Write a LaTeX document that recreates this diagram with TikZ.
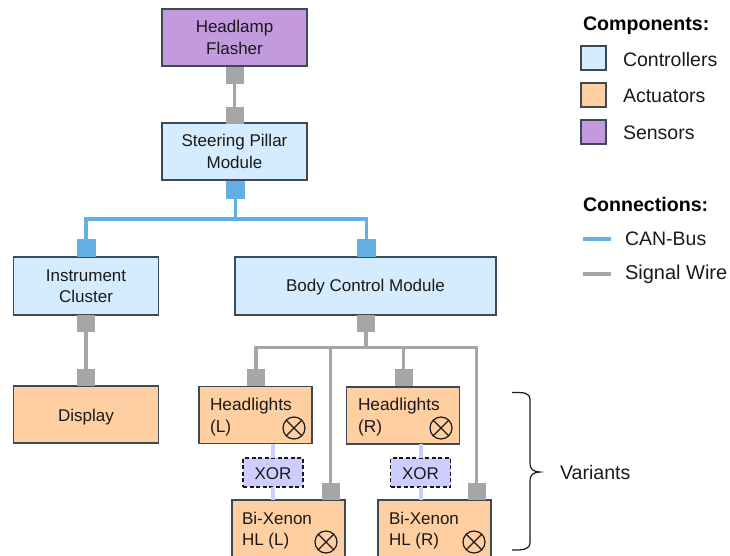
\documentclass[tikz,border=0pt]{standalone}
\usepackage{fontspec}
\setmainfont{Liberation Sans}
\definecolor{ctrl}{HTML}{D5EBFE}
\definecolor{act}{HTML}{FFCFA1}
\definecolor{sens}{HTML}{C39ADE}
\definecolor{canb}{HTML}{64B0E4}
\definecolor{sigw}{HTML}{A6A6A6}
\definecolor{edge}{HTML}{3C4A56}
\definecolor{xorc}{HTML}{CDCDFF}
\definecolor{ink}{HTML}{1A1A1A}
\tikzset{
  every node/.style={font=\fontsize{17}{21.5}\selectfont,text=ink,inner sep=0pt,outer sep=0pt},
  unit/.style={draw=edge,line width=1.3pt,align=center},
  wide/.style={minimum width=145pt,minimum height=57pt},
  ctrlbox/.style={unit,fill=ctrl},
  actbox/.style={unit,fill=act},
  sensbox/.style={unit,fill=sens},
  variant/.style={unit,fill=act,minimum width=113pt,minimum height=57pt},
  portg/.style={fill=sigw,minimum width=18pt,minimum height=17pt},
  portb/.style={fill=canb,minimum width=19pt,minimum height=18pt},
  wire/.style={draw=sigw,line width=3.5pt},
  bus/.style={draw=canb,line width=3.5pt},
  xorline/.style={draw=xorc,line width=4pt},
  xorbox/.style={draw=ink,line width=1.1pt,fill=xorc,minimum width=60pt,minimum height=29pt,dash pattern=on 4pt off 2.5pt},
  lamp/.style={draw=ink,line width=1.2pt,circle,minimum size=22pt},
  lbl/.style={align=left,anchor=west},
  swatch/.style={draw=edge,line width=1.3pt,minimum width=25pt,minimum height=24pt},
  legendtext/.style={anchor=west,font=\fontsize{19.5}{23}\selectfont},
  head/.style={anchor=west,font=\fontsize{19.6}{23}\selectfont\bfseries,text=black},
}
\newcommand{\lampat}[2]{%
  \node[lamp] (#1) at #2 {};
  \draw[ink,line width=1.2pt] (#1.north west) -- (#1.south east) (#1.north east) -- (#1.south west);
}
\begin{document}
\begin{tikzpicture}[x=1pt,y=-1pt]
\useasboundingbox (0,0) rectangle (730,555);
\clip (0,0) rectangle (730,555);
% nodes
\node[sensbox,wide] (flash) at (234.5,37.5) {Headlamp\\Flasher};
\node[ctrlbox,wide] (steer) at (234.5,151.5) {Steering Pillar\\Module};
\node[ctrlbox,wide,minimum height=58pt] (inst) at (86,286) {Instrument\\Cluster};
\node[ctrlbox,minimum width=261pt,minimum height=58pt] (bcm) at (365.5,286) {};
\node[actbox,wide] (disp) at (86,414.5) {};
\node[variant] (hll) at (255.5,415) {};
\node[variant] (hlr) at (403,415.5) {};
\node[variant,minimum height=70pt] (bxl) at (288.5,535) {};
\node[variant,minimum height=70pt] (bxr) at (434.5,535) {};
\node[xorbox] (xl) at (273,472.5) {};
\node[xorbox] (xr) at (420.5,472.5) {};
\node (tb) at (365.5,287) {Body Control Module};
\node (td) at (86,417) {Display};
\node (tx1) at (273,473.5) {XOR};
\node (tx2) at (420.5,473.5) {XOR};
% ports
\node[portg] (p1) at (234.5,75.5) {};
\node[portg] (p2) at (234.5,115) {};
\node[portb] (p3) at (235.5,189.5) {};
\node[portb] (p4) at (86,248) {};
\node[portb] (p5) at (366.5,248) {};
\node[portg] (p6) at (86,323.5) {};
\node[portg] (p7) at (86,377.5) {};
\node[portg] (p8) at (366,323.5) {};
\node[portg] (p9) at (256,377.5) {};
\node[portg] (p10) at (403.5,377.5) {};
\node[portg] (p11) at (330.5,491.5) {};
\node[portg] (p12) at (476.5,491.5) {};
\coordinate (j) at (366,347.5);
\coordinate (k) at (235.5,219);
% connectors
\draw[wire] (p1.center) -- (p2.center);
\draw[wire] (p6.center) -- (p7.center);
\draw[wire] (p8.center) -- (j);
\draw[wire] (p9.center) |- (j);
\draw[wire] (p12.center) |- (j);
\draw[wire] (p10.center) -- (p10.center |- j);
\draw[wire] (p11.center) -- (p11.center |- j);
\draw[bus] (p3.center) -- (k);
\draw[bus] (p4.center) |- (k);
\draw[bus] (p5.center) |- (k);
\draw[xorline] (hll.south -| xl.north) -- (xl.north);
\draw[xorline] (xl.south) -- (xl.south |- bxl.north);
\draw[xorline] (hlr.south -| xr.north) -- (xr.north);
\draw[xorline] (xr.south) -- (xr.south |- bxr.north);
% box texts
\node[lbl,font=\fontsize{17.3}{21.5}\selectfont] (t1) at (210,417) {Headlights\\(L)};
\node[lbl,font=\fontsize{17.3}{21.5}\selectfont] (t2) at (358,417) {Headlights\\(R)};
\node[lbl] (t3) at (242,530.5) {Bi-Xenon\\HL (L)};
\node[lbl] (t4) at (389,530.5) {Bi-Xenon\\HL (R)};
\lampat{c1}{(294,428)}
\lampat{c2}{(441,428)}
\lampat{c3}{(326,542)}
\lampat{c4}{(474,542)}
% brace
\coordinate (bt) at (512,392.5);
\coordinate (bb) at (512,550);
\coordinate (btip) at (540,472);
\draw[ink,line width=1.2pt] (bt) .. controls (523,392.5) and (530,392) .. (530,400)
  -- (530,462) .. controls (530,470) and (533,471.5) .. (btip)
  .. controls (533,472.5) and (530,474) .. (530,482)
  -- (530,542) .. controls (530,550) and (523,550) .. (bb);
\node[legendtext,font=\fontsize{19.6}{23}\selectfont] (var) at (560,472.5) {Variants};
% legend
\node[head] (hc) at (583,25.5) {Components:};
\node[swatch,fill=ctrl] (s1) at (593.5,58) {};
\node[swatch,fill=act] (s2) at (593.5,95) {};
\node[swatch,fill=sens] (s3) at (593.5,132) {};
\node[legendtext] (l1) at (623,60) {Controllers};
\node[legendtext] (l2) at (623,96) {Actuators};
\node[legendtext] (l3) at (623,132.5) {Sensors};
\node[head] (hn) at (583,204) {Connections:};
\coordinate (a1) at (583,239);
\coordinate (a2) at (611,239);
\coordinate (b1) at (583,274);
\coordinate (b2) at (611,274);
\draw[bus] (a1) -- (a2);
\draw[wire] (b1) -- (b2);
\node[legendtext] (l4) at (625,239) {CAN-Bus};
\node[legendtext,font=\fontsize{20}{23}\selectfont] (l5) at (625,274.5) {Signal Wire};
\end{tikzpicture}
\end{document}
